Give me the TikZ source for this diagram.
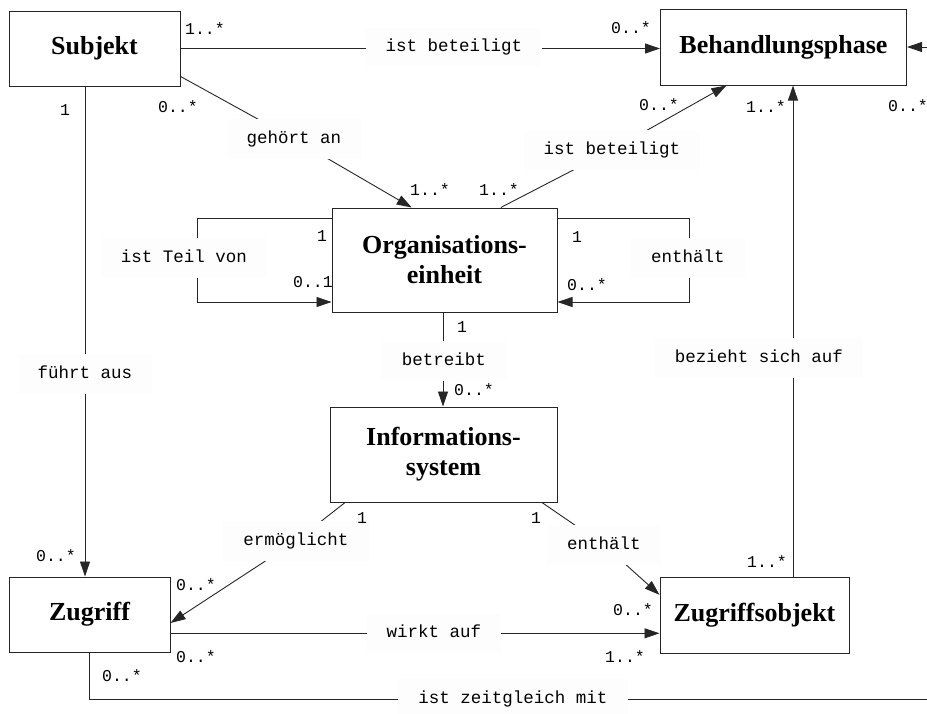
\documentclass[tikz,border=0pt]{standalone}
\usepackage{fontspec}
\setmainfont{Liberation Serif}
\newfontfamily\lblfont{Liberation Mono}
\usetikzlibrary{arrows.meta,calc}

\definecolor{linec}{gray}{0.15}
\definecolor{lblbg}{gray}{0.992}

\tikzset{
  classbox/.style={draw=linec, line width=1pt, inner sep=0pt, align=center,
    font=\bfseries\fontsize{26}{30}\selectfont},
  conn/.style={draw=linec, line width=0.9pt},
  arr/.style={conn, -{Triangle[length=15pt,width=10pt]}},
  lbl/.style={fill=lblbg, inner xsep=20pt, inner ysep=12pt, text height=12pt,
    text depth=3.5pt, font=\lblfont\fontsize{17.5}{17.5}\selectfont},
  mult/.style={inner sep=0pt, font=\lblfont\fontsize{16.5}{16.5}\selectfont}
}

\begin{document}
\begin{tikzpicture}[x=1pt, y=-1pt]
\useasboundingbox (0,0) rectangle (927,713);

% classes
\node[classbox, minimum width=171pt, minimum height=75pt] (subj) at (94.5,48.5) {Subjekt};
\node[classbox, minimum width=246pt, minimum height=76pt] (beh) at (783.5,47) {Behandlungsphase};
\node[classbox, minimum width=225pt, minimum height=104pt] (orga) at (444.5,260) {Organisations-\\einheit};
\node[classbox, minimum width=227pt, minimum height=95pt] (info) at (443.5,454.5) {Informations-\\system};
\node[classbox, minimum width=161pt, minimum height=75pt] (zug) at (89.5,614.5) {Zugriff};
\node[classbox, minimum width=189pt, minimum height=76pt] (zobj) at (754.5,615) {Zugriffsobjekt};

% label positions
\coordinate (pBet1) at (454,47.5);
\coordinate (pGeh) at (294,139);
\coordinate (pBet2) at (612,150);
\coordinate (pTeil) at (184,258);
\coordinate (pEnt1) at (688,258);
\coordinate (pBetr) at (444,361);
\coordinate (pFuehrt) at (85,374);
\coordinate (pBez) at (759,358);
\coordinate (pErm) at (296,541);
\coordinate (pEnt2) at (604,545);
\coordinate (pWirkt) at (434,633.3);
\coordinate (pZeit) at (513,699);
\coordinate (edgeT) at (927,47);
\coordinate (edgeB) at (927,699);

% associations
\draw[arr] (subj.east) -- (subj.east -| beh.west);
\draw[arr] (subj.-18.4) -- (pGeh) -- (orga.122);
\draw[arr] (orga.43.1) -- (pBet2) -- (beh.-146.5);
\draw[arr] (edgeT) -- (edgeT -| beh.east);
\draw[arr] ([xshift=-9.5pt]subj.south) -- ([xshift=-9.5pt]subj.south |- zug.north);
\draw[arr] ([yshift=42pt]orga.west) -- ++(-134,0) |- ([yshift=-42pt]orga.west);
\draw[arr] ([yshift=42pt]orga.east) -- ++(132,0) |- ([yshift=-42pt]orga.east);
\draw[arr] ([xshift=-1.5pt]orga.south) -- ([xshift=-1.5pt]orga.south |- info.north);
\draw[arr] (info.206.7) -- (pErm) -- (zug.-6);
\draw[arr] (info.-26.7) -- (pEnt2) -- (zobj.168.1);
\draw[arr] ([yshift=-18.8pt]zug.east) -- ([yshift=-18.8pt]zug.east -| zobj.west);
\draw[arr] ([xshift=38.5pt]zobj.north) -- ([xshift=38.5pt]zobj.north |- beh.south);
\draw[conn] (zug.south) |- (edgeB);

% association names
\node[lbl] (lBet1) at (pBet1) {ist beteiligt};
\node[lbl] (lGeh) at (pGeh) {gehört an};
\node[lbl] (lBet2) at (pBet2) {ist beteiligt};
\node[lbl] (lTeil) at (pTeil) {ist Teil von};
\node[lbl] (lEnt1) at (pEnt1) {enthält};
\node[lbl] (lBetr) at (pBetr) {betreibt};
\node[lbl] (lFuehrt) at (pFuehrt) {führt aus};
\node[lbl] (lBez) at (pBez) {bezieht sich auf};
\node[lbl] (lErm) at (pErm) {ermöglicht};
\node[lbl] (lEnt2) at (pEnt2) {enthält};
\node[lbl] (lWirkt) at (pWirkt) {wirkt auf};
\node[lbl] (lZeit) at (pZeit) {ist zeitgleich mit};

% multiplicities
\node[mult] (m1) at (205,29) {1..*};
\node[mult] (m2) at (631,28) {0..*};
\node[mult] (m3) at (178,107) {0..*};
\node[mult] (m4) at (430,190) {1..*};
\node[mult] (m5) at (499,190) {1..*};
\node[mult] (m6) at (659,105) {0..*};
\node[mult] (m7) at (908,106) {0..*};
\node[mult] (m8) at (766,107) {1..*};
\node[mult] (m9) at (65,110) {1};
\node[mult] (m10) at (56,556) {0..*};
\node[mult] (m11) at (322,236) {1};
\node[mult] (m12) at (313,282) {0..1};
\node[mult] (m13) at (577,237) {1};
\node[mult] (m14) at (587,285) {0..*};
\node[mult] (m15) at (462,327) {1};
\node[mult] (m16) at (474,390) {0..*};
\node[mult] (m17) at (362,518) {1};
\node[mult] (m18) at (196,585) {0..*};
\node[mult] (m19) at (536,518) {1};
\node[mult] (m20) at (633,610) {0..*};
\node[mult] (m21) at (196,657) {0..*};
\node[mult] (m22) at (625,657) {1..*};
\node[mult] (m23) at (767,562) {1..*};
\node[mult] (m24) at (122,676) {0..*};
\end{tikzpicture}
\end{document}
